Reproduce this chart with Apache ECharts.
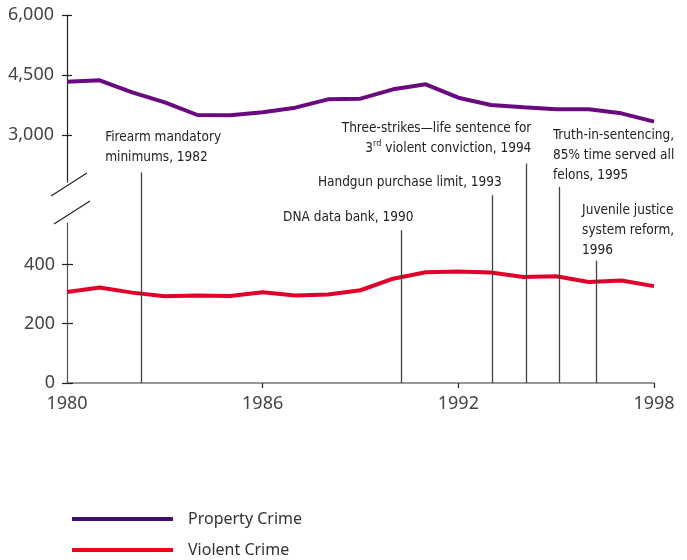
<!DOCTYPE html>
<html>
<head>
<meta charset="utf-8">
<script src="https://cdn.jsdelivr.net/npm/echarts@6/dist/echarts.min.js"></script>
<style>html,body{margin:0;padding:0;background:#fff;}#c{width:687px;height:560px;}</style>
</head>
<body>
<div id="c"></div>
<script>
const years = [1980,1981,1982,1983,1984,1985,1986,1987,1988,1989,1990,1991,1992,1993,1994,1995,1996,1997,1998];
const propertyCrime = [4333,4367,4067,3817,3500,3492,3567,3683,3892,3908,4142,4267,3933,3750,3692,3642,3642,3542,3333];
const violentCrime = [307,322,305,293,295,294,306,295,299,313,352,374,376,373,358,360,341,346,327];
const upperTicks = [3000,4500,6000];
const lowerTicks = [0,200,400];
const xTicks = [1980,1986,1992,1998];
// annotation leader lines: x position (year), top end (violent-crime scale)
const annoYears = [1982.29, 1990.24, 1993.04, 1994.07, 1995.1, 1996.24];
const annoTops = [711, 516, 634, 741, 662, 413];
const annoTexts = [
  'Firearm mandatory\nminimums, 1982',
  'DNA data bank, 1990',
  'Handgun purchase limit, 1993',
  'Three-strikes\u2014life sentence for\n3{sup|rd} violent conviction, 1994',
  'Truth-in-sentencing,\n85% time served all\nfelons, 1995',
  'Juvenile justice\nsystem reform,\n1996'
];
const annoLayout = [
  {pos:[-36,-44], align:'left'},
  {pos:[13,-22], align:'right'},
  {pos:[10,-22], align:'right'},
  {pos:[6,-44], align:'right'},
  {pos:[-6,-61], align:'left'},
  {pos:[-14,-60], align:'left'}
];

const tickFont = {fontFamily:'Noto Sans', fontSize:18, color:'#444'};
const annoFont = "'Liberation Sans Narrow','DejaVu Sans Condensed',sans-serif";

const chart = echarts.init(document.getElementById('c'));
chart.setOption({
  animation:false,
  grid:[
    {left:67, right:33, top:15, height:167},
    {left:67, right:33, top:223, height:160},
    {left:67, right:33, top:146, height:237}
  ],
  xAxis:[
    {gridIndex:0, type:'value', min:1980, max:1998, interval:6, show:false},
    {gridIndex:1, type:'value', min:1980, max:1998, interval:6,
     axisLine:{lineStyle:{color:'#777', width:1.5}},
     axisTick:{show:true, length:5, lineStyle:{color:'#222', width:1.2}, customValues:[1986,1992,1998]},
     axisLabel:Object.assign({margin:12, customValues:xTicks, formatter: v => String(v)}, tickFont),
     splitLine:{show:false}},
    {gridIndex:2, type:'value', min:1980, max:1998, show:false}
  ],
  yAxis:[
    {gridIndex:0, type:'value', min:1825, max:6000,
     axisLine:{show:true, lineStyle:{color:'#222', width:1.2}},
     axisTick:{show:true, length:5, customValues:upperTicks, lineStyle:{color:'#222', width:1.2}},
     axisLabel:Object.assign({margin:13, customValues:upperTicks, formatter: v => v.toLocaleString('en-US')}, tickFont),
     splitLine:{show:false}},
    {gridIndex:0, type:'value', min:1825, max:6000, position:'left',
     axisLine:{show:false},
     axisTick:{show:true, inside:true, length:5, customValues:upperTicks, lineStyle:{color:'#222', width:1.2}},
     axisLabel:{show:false}, splitLine:{show:false}},
    {gridIndex:1, type:'value', min:0, max:540,
     axisLine:{show:true, lineStyle:{color:'#555', width:1.2}},
     axisTick:{show:true, length:5, customValues:lowerTicks, lineStyle:{color:'#222', width:1.2}},
     axisLabel:Object.assign({margin:12, customValues:lowerTicks}, tickFont),
     splitLine:{show:false}},
    {gridIndex:1, type:'value', min:0, max:540, position:'left',
     axisLine:{show:false},
     axisTick:{show:true, inside:true, length:6, customValues:lowerTicks, lineStyle:{color:'#222', width:1.2}},
     axisLabel:{show:false}, splitLine:{show:false}},
    {gridIndex:2, type:'value', min:0, max:800, show:false}
  ],
  legend:{
    orient:'vertical', left:72, top:511, padding:0, itemWidth:101, itemHeight:4, itemGap:15, icon:'rect',
    textStyle:{fontFamily:'Noto Sans', fontSize:16, color:'#333', padding:[0,0,0,10]},
    data:[
      {name:'Property Crime', itemStyle:{color:'#420d78'}},
      {name:'Violent Crime', itemStyle:{color:'#f40012'}}
    ]
  },
  series:[
    {name:'Property Crime', type:'line', xAxisIndex:0, yAxisIndex:0, symbol:'none',
     lineStyle:{color:'#6a0a80', width:4}, itemStyle:{color:'#6a0a80'},
     data: years.map((y,i)=>[y, propertyCrime[i]])},
    {name:'Violent Crime', type:'line', xAxisIndex:1, yAxisIndex:2, symbol:'none',
     lineStyle:{color:'#e0002a', width:4}, itemStyle:{color:'#e0002a'}, z:3,
     data: years.map((y,i)=>[y, violentCrime[i]])},
    {name:'Annotations', type:'line', xAxisIndex:2, yAxisIndex:4, symbol:'none', silent:true, z:1,
     data:[],
     markLine:{
       silent:true, symbol:['none','none'],
       lineStyle:{color:'#444', width:1.3, type:'solid'},
       label:{show:false},
       data: annoYears.map((x,i)=>[{coord:[x, annoTops[i]]},{coord:[x, 0]}])
     },
     markPoint:{
       silent:true, symbol:'circle', symbolSize:1, itemStyle:{color:'rgba(0,0,0,0)'},
       data: annoYears.map((x,i)=>({
         coord:[x, annoTops[i]],
         label:{show:true, position:annoLayout[i].pos, align:annoLayout[i].align, verticalAlign:'top',
           formatter:annoTexts[i], fontFamily:annoFont, fontSize:13.5, lineHeight:20, color:'#222',
           rich:{sup:{fontFamily:annoFont, fontSize:9, verticalAlign:'top', lineHeight:14, color:'#222'}}}
       }))
     }}
  ],
  graphic:[
    {type:'line', shape:{x1:51, y1:196, x2:87, y2:173}, style:{stroke:'#222', lineWidth:1.2}},
    {type:'line', shape:{x1:54, y1:224, x2:90, y2:201}, style:{stroke:'#222', lineWidth:1.2}}
  ]
});
</script>
</body>
</html>
